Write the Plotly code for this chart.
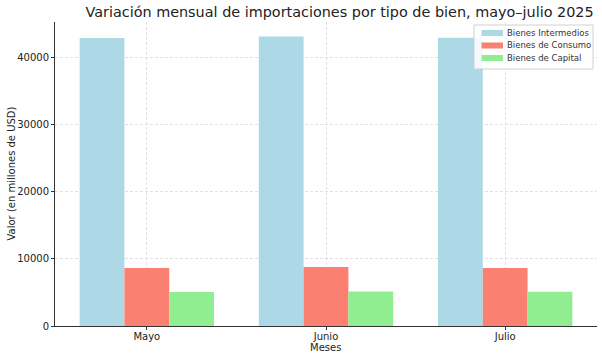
import plotly.graph_objects as go

meses = ["Mayo", "Junio", "Julio"]
intermedios = [42870, 43100, 42900]
consumo = [8650, 8780, 8650]
capital = [5060, 5150, 5100]

series = [
    ("Bienes Intermedios", intermedios, "#ADD8E6"),
    ("Bienes de Consumo", consumo, "#FA8072"),
    ("Bienes de Capital", capital, "#90EE90"),
]

fig = go.Figure()
for name, vals, color in series:
    fig.add_trace(go.Bar(
        x=list(range(len(meses))), y=vals, name=name,
        marker=dict(color=color, line=dict(width=0)),
        showlegend=False,
    ))

# helpers: figure pixel -> paper coords (plot area spans x 55..597, y 22..326)
PX0, PW, PY1, PH = 55, 542, 326, 304
def px(x):
    return (x - PX0) / PW
def py(y):
    return (PY1 - y) / PH

shapes = [dict(type="rect", xref="paper", yref="paper",
               x0=px(474), x1=px(593), y0=py(69), y1=py(25),
               fillcolor="rgba(255,255,255,0.85)", line=dict(color="#d0d0d0", width=1),
               layer="above")]
annotations = []
rows = [33, 45.5, 58]
for (name, _, color), ry in zip(series, rows):
    shapes.append(dict(type="rect", xref="paper", yref="paper",
                       x0=px(481.5), x1=px(503), y0=py(ry + 3), y1=py(ry - 3),
                       fillcolor=color, line=dict(width=0), layer="above"))
    annotations.append(dict(text=name, xref="paper", yref="paper",
                            x=px(505), y=py(ry), xanchor="left", yanchor="middle",
                            showarrow=False, font=dict(size=8.5, color="#333333")))

# axis titles
annotations.append(dict(text="Meses", xref="paper", yref="paper",
                        x=px(325.5), y=py(347.5), xanchor="center", yanchor="middle",
                        showarrow=False, font=dict(size=10, color="#222222")))
annotations.append(dict(text="Valor (en millones de USD)", xref="paper", yref="paper",
                        x=px(10.5), y=py(174), xanchor="center", yanchor="middle",
                        textangle=-90, showarrow=False, font=dict(size=10, color="#222222")))

font = "DejaVu Sans, sans-serif"
fig.update_layout(
    width=602, height=359,
    barmode="group", bargap=0.25, bargroupgap=0,
    plot_bgcolor="white", paper_bgcolor="white",
    margin=dict(l=55, r=5, t=22, b=33, autoexpand=False),
    font=dict(family=font, size=10, color="#222222"),
    hovermode=False,
    title=dict(text="Variación mensual de importaciones por tipo de bien, mayo–julio 2025",
               x=0.525, xref="paper", xanchor="center", y=0.981, yref="container", yanchor="top",
               pad=dict(t=0, b=0),
               font=dict(size=14.4, color="#222222")),
    shapes=shapes, annotations=annotations,
    xaxis=dict(
        tickmode="array", tickvals=[0, 1, 2], ticktext=meses,
        range=[-0.5125, 2.5125], automargin=False,
        showgrid=True, gridcolor="#d9d9d9", griddash="3px,2px", gridwidth=0.8,
        showline=True, linecolor="#333333", linewidth=1,
        ticks="outside", ticklen=3, tickcolor="#333333",
        tickfont=dict(size=10), ticklabelstandoff=-2,
        zeroline=False,
    ),
    yaxis=dict(
        range=[0, 45250], tickvals=[0, 10000, 20000, 30000, 40000],
        automargin=False,
        showgrid=True, gridcolor="#d9d9d9", griddash="3px,2px", gridwidth=0.8,
        showline=True, linecolor="#333333", linewidth=1,
        ticks="outside", ticklen=3, tickcolor="#333333",
        tickfont=dict(size=10),
        zeroline=False, tickformat="d",
    ),
)

fig.write_html("out.html", config={"displayModeBar": False, "staticPlot": True},
               post_script="document.body.style.margin='0';document.body.style.overflow='hidden';")
